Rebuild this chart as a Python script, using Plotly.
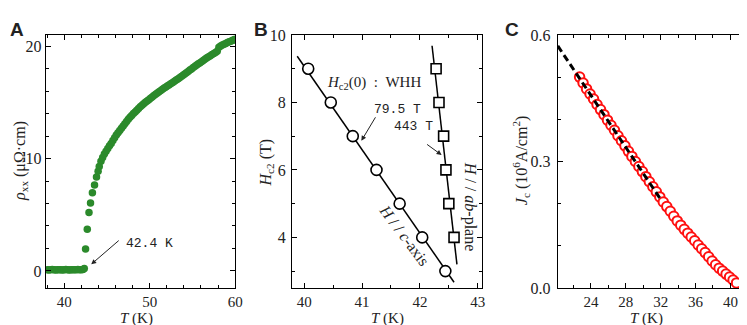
import plotly.graph_objects as go

W, H = 747, 325

def px(x):
    return x / W

def py(y):
    return 1 - y / H

# ---------------- Panel A: resistivity ----------------
rho_T = [38.0, 38.2, 38.4, 38.6, 38.8, 39.0, 39.2, 39.4, 39.6, 39.8, 40.0, 40.2, 40.4, 40.6,
         40.8, 41.0, 41.2, 41.4, 41.6, 41.8, 42.0, 42.2, 42.35,
         42.5, 42.7, 42.9, 43.08, 43.3, 43.55, 43.78, 43.97,
         44.1, 44.3, 44.5, 44.7, 44.9, 45.1, 45.3, 45.5, 45.7, 45.9,
         46.1, 46.3, 46.5, 46.7, 46.9, 47.1, 47.3, 47.5, 47.7, 47.9,
         48.1, 48.3, 48.5, 48.7, 48.9, 49.1, 49.3, 49.5, 49.7, 49.9,
         50.1, 50.3, 50.5, 50.7, 50.9, 51.1, 51.3, 51.5, 51.7, 51.9,
         52.1, 52.3, 52.5, 52.7, 52.9, 53.1, 53.3, 53.5, 53.7, 53.9,
         54.1, 54.3, 54.5, 54.7, 54.9, 55.1, 55.3, 55.5, 55.7, 55.9,
         56.1, 56.3, 56.5, 56.7, 56.9, 57.1, 57.3, 57.5, 57.7, 57.9,
         58.1, 58.3, 58.5, 58.7, 58.9, 59.1, 59.3, 59.5, 59.7, 59.9, 60.0]
rho_val = [0.1, 0.08, 0.1, 0.12, 0.1, 0.09, 0.1, 0.11, 0.1, 0.08, 0.1, 0.12, 0.1, 0.09,
           0.1, 0.11, 0.1, 0.1, 0.12, 0.1, 0.11, 0.13, 0.22,
           1.94, 3.7, 5.2, 6.05, 6.95, 7.65, 8.35, 8.86,
           9.3, 9.75, 10.1, 10.4, 10.65, 10.9, 11.13, 11.35, 11.6, 11.85,
           12.1, 12.3, 12.5, 12.7, 12.9, 13.1, 13.3, 13.5, 13.68, 13.84,
           14.0, 14.15, 14.3, 14.45, 14.6, 14.75, 14.88, 15.0, 15.12, 15.24,
           15.36, 15.48, 15.6, 15.72, 15.83, 15.94, 16.05, 16.16, 16.27, 16.37,
           16.47, 16.57, 16.67, 16.77, 16.87, 16.98, 17.09, 17.2, 17.3, 17.41,
           17.52, 17.63, 17.75, 17.87, 17.98, 18.1, 18.21, 18.32, 18.43, 18.53,
           18.64, 18.75, 18.86, 18.96, 19.05, 19.15, 19.25, 19.35, 19.44, 19.55,
           19.9, 20.02, 20.1, 20.18, 20.25, 20.32, 20.39, 20.45, 20.52, 20.58, 20.62]

# ---------------- Panel B: Hc2 ----------------
hc2_c_T = [40.07, 40.46, 40.84, 41.25, 41.65, 42.04, 42.44]
hc2_c_H = [9, 8, 7, 6, 5, 4, 3]
hc2_ab_T = [42.28, 42.33, 42.41, 42.45, 42.50, 42.59]
hc2_ab_H = [9, 8, 7, 6, 5, 4]
fit_c_T = [39.88, 42.59]
fit_c_H = [9.37, 2.67]
fit_ab_T = [42.21, 42.64]
fit_ab_H = [9.68, 3.2]

# ---------------- Panel C: Jc ----------------
jc_T = [22.7, 23.1, 23.5, 23.9, 24.3, 24.7, 25.1, 25.5, 25.9, 26.3,
        26.7, 27.1, 27.5, 27.9, 28.3, 28.7, 29.1, 29.5, 29.9, 30.3,
        30.7, 31.1, 31.5, 31.9, 32.3, 32.7, 33.1, 33.5, 33.9, 34.3,
        34.7, 35.1, 35.5, 35.9, 36.3, 36.7, 37.1, 37.5, 37.9, 38.3,
        38.7, 39.1, 39.5, 39.9, 40.3, 40.7]
jc_val = [0.500, 0.486, 0.472, 0.460, 0.448, 0.435, 0.423, 0.411, 0.398, 0.386,
          0.374, 0.361, 0.349, 0.337, 0.324, 0.312, 0.300, 0.288, 0.276, 0.264,
          0.252, 0.240, 0.228, 0.216, 0.204, 0.193, 0.182, 0.170, 0.159, 0.149,
          0.139, 0.130, 0.121, 0.112, 0.102, 0.093, 0.084, 0.074, 0.064, 0.055,
          0.047, 0.040, 0.033, 0.026, 0.019, 0.012]
jc_fit_T = [20.2, 32.0]
jc_fit_J = [0.574, 0.21]

# tick labels
a_xticks = [40, 50, 60]
a_yticks = [0, 10, 20]
b_xticks = [40, 41, 42, 43]
b_yticks = [4, 6, 8, 10]
c_xticks = [24, 28, 32, 36, 40]
c_yticks = [0.0, 0.3, 0.6]
c_yticklabels = ["0.0", "0.3", "0.6"]

GREEN = "#2b8a2b"
RED = "#ff1010"
TXT = "#222222"
SERIF = "'Liberation Serif', 'DejaVu Serif', serif"
MONO = "'Liberation Mono', monospace"
SANS = "'Liberation Sans', Arial, sans-serif"

fig = go.Figure()

fig.add_trace(go.Scatter(x=rho_T, y=rho_val, mode="markers", xaxis="x", yaxis="y",
                         marker=dict(size=7.5, color=GREEN), showlegend=False))

fig.add_trace(go.Scatter(x=fit_c_T, y=fit_c_H, mode="lines", xaxis="x2", yaxis="y2",
                         line=dict(color="black", width=1.5), showlegend=False))
fig.add_trace(go.Scatter(x=fit_ab_T, y=fit_ab_H, mode="lines", xaxis="x2", yaxis="y2",
                         line=dict(color="black", width=1.5), showlegend=False))
fig.add_trace(go.Scatter(x=hc2_c_T, y=hc2_c_H, mode="markers", xaxis="x2", yaxis="y2",
                         marker=dict(symbol="circle", size=11, color="white",
                                     line=dict(color="black", width=1.6)), showlegend=False))
fig.add_trace(go.Scatter(x=hc2_ab_T, y=hc2_ab_H, mode="markers", xaxis="x2", yaxis="y2",
                         marker=dict(symbol="square", size=10, color="white",
                                     line=dict(color="black", width=1.6)), showlegend=False))

fig.add_trace(go.Scatter(x=jc_T, y=jc_val, mode="markers", xaxis="x3", yaxis="y3",
                         marker=dict(symbol="circle", size=9.5, color="white",
                                     line=dict(color=RED, width=2)), showlegend=False))
fig.add_trace(go.Scatter(x=jc_fit_T, y=jc_fit_J, mode="lines", xaxis="x3", yaxis="y3",
                         line=dict(color="black", width=3, dash="7px,4px"), showlegend=False))

ydom = [py(287), py(20)]

def axis_style(**kw):
    d = dict(showline=True, linecolor="black", linewidth=1, mirror="ticks",
             ticks="inside", ticklen=5, tickwidth=1, tickcolor="black",
             showgrid=False, zeroline=False,
             tickfont=dict(family=SERIF, size=16, color=TXT))
    d.update(kw)
    return d

def minor(step):
    return dict(dtick=step, tick0=0, ticks="inside", ticklen=3, tickcolor="black", showgrid=False)

XFONT = dict(family=SERIF, size=15, color=TXT)

fig.update_layout(
    width=W, height=H, margin=dict(l=0, r=0, t=0, b=0),
    paper_bgcolor="white", plot_bgcolor="white",
    xaxis=axis_style(domain=[px(38), px(229.3)], range=[37.83, 60], anchor="y",
                     tickvals=a_xticks, ticktext=[str(v) for v in a_xticks],
                     tickfont=XFONT, ticklabelstandoff=0, minor=minor(2)),
    yaxis=axis_style(domain=ydom, range=[-1.52, 21.0], anchor="x",
                     tickvals=a_yticks, ticktext=[str(v) for v in a_yticks],
                     minor=minor(2)),
    xaxis2=axis_style(domain=[px(286.7), px(478.3)], range=[39.79, 43.07], anchor="y2",
                      tickvals=b_xticks, ticktext=[str(v) for v in b_xticks],
                      tickfont=XFONT, ticklabelstandoff=0, minor=minor(0.5)),
    yaxis2=axis_style(domain=ydom, range=[2.5, 10.0], anchor="x2",
                      tickvals=b_yticks, ticktext=[str(v) for v in b_yticks],
                      ticklabelstandoff=2, minor=minor(1)),
    xaxis3=axis_style(domain=[px(555), px(746)], range=[20.2, 41.9], anchor="y3",
                      tickvals=c_xticks, ticktext=[str(v) for v in c_xticks],
                      tickfont=XFONT, ticklabelstandoff=0, minor=minor(2)),
    yaxis3=axis_style(domain=ydom, range=[0.0, 0.6], anchor="x3",
                      tickvals=c_yticks, ticktext=c_yticklabels,
                      ticklabelstandoff=3, minor=minor(0.1)),
)

ann = []

def txt(x, y, text, size=16, family=SERIF, xanchor="center", yanchor="middle", angle=0):
    ann.append(dict(x=px(x), y=py(y), xref="paper", yref="paper", text=text, showarrow=False,
                    xanchor=xanchor, yanchor=yanchor, textangle=angle,
                    font=dict(family=family, size=size, color=TXT)))

def arrow(hx, hy, tx, ty):
    ann.append(dict(x=px(hx), y=py(hy), xref="paper", yref="paper", text="",
                    showarrow=True, ax=tx - hx, ay=ty - hy, arrowhead=2, arrowsize=1,
                    arrowwidth=1, arrowcolor=TXT))

# panel letters
txt(0, 1, "<b>A</b>", size=19, family=SANS, xanchor="left", yanchor="top")
txt(246, 1, "<b>B</b>", size=19, family=SANS, xanchor="left", yanchor="top")
txt(500, 1, "<b>C</b>", size=19, family=SANS, xanchor="left", yanchor="top")

# axis titles
txt(13, 153, "<i>ρ</i><sub>xx</sub> (μΩ·cm)", size=16, angle=-90)
txt(130, 319, "<i>T</i> (K)", size=15)
txt(261, 155, "<i>H</i><sub>c2</sub> (T)", size=16, angle=-90)
txt(383, 319, "<i>T</i> (K)", size=15)
txt(518, 153, "<i>J</i><sub>c</sub> (10<sup>6</sup>A/cm<sup>2</sup>)", size=16, angle=-90)
txt(645, 319, "<i>T</i> (K)", size=15)

# panel A annotation
txt(117, 240, "42.4 K", size=13, family=MONO, xanchor="left")
arrow(84, 262, 113, 237)

# panel B annotations
txt(320, 71, "<i>H</i><sub>c2</sub>(0)&nbsp;&nbsp;:&nbsp;&nbsp;WHH", size=15, xanchor="left")
txt(367, 99, "79.5 T", size=13, family=MONO, xanchor="left")
arrow(356.7, 131.7, 371.7, 106.7)
txt(388, 117, "443 T", size=13, family=MONO, xanchor="left")
arrow(437.7, 146.7, 421.7, 135)
txt(400, 232, "<i>H</i> / / <i>c</i>-axis", size=16, angle=53)
txt(466, 201, "<i>H</i> / / <i>ab</i>-plane", size=16, angle=90)

fig.update_layout(annotations=ann)

fig.write_html("out.html")
